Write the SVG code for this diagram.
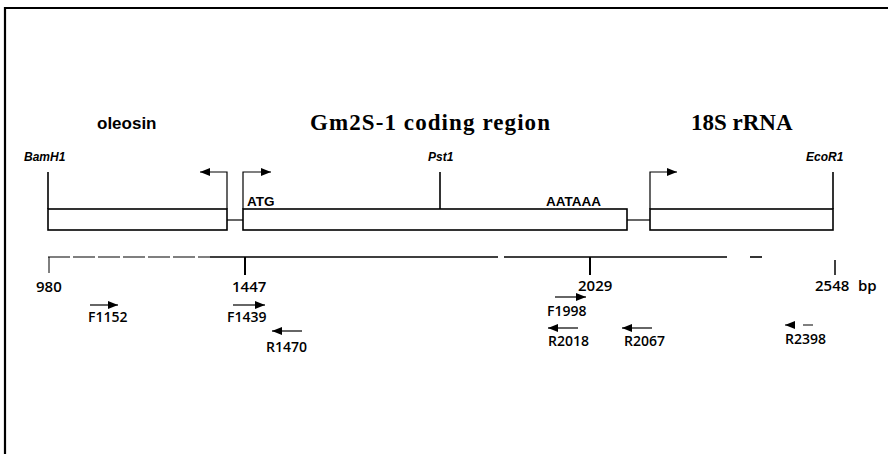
<svg xmlns="http://www.w3.org/2000/svg" width="888" height="454" viewBox="0 0 888 454">
<style>
.ln{fill:none;stroke:#000;stroke-width:1.6}
.thin{fill:none;stroke:#000;stroke-width:1.2}
.box{fill:#fff;stroke:#000;stroke-width:1.6}
.title{font-family:"Liberation Serif",serif;font-weight:bold;font-size:23px;fill:#000}
.sans{font-family:"Liberation Sans",sans-serif;font-weight:bold;fill:#000}
.site{font-family:"Liberation Sans",sans-serif;font-weight:bold;font-style:italic;font-size:12px;fill:#000}
.num{font-family:"Open Sans","Liberation Sans",sans-serif;font-weight:600;font-size:15px;fill:#000}
.pr{font-family:"Open Sans","Liberation Sans",sans-serif;font-weight:600;font-size:14px;fill:#000}
</style>
<defs>
<marker id="ah" markerUnits="userSpaceOnUse" markerWidth="11" markerHeight="9" refX="10" refY="4" orient="auto">
<path d="M0,0 L10,4 L0,8 z" fill="#000"/>
</marker>
</defs>
<rect width="888" height="454" fill="#fff"/>
<path d="M5,454 V8 H888" fill="none" stroke="#000" stroke-width="2.2"/>

<g id="titles">
<text x="97" y="129" class="sans" font-size="17">oleosin</text>
<text x="310" y="130" class="title" textLength="240" lengthAdjust="spacing">Gm2S-1 coding region</text>
<text x="691" y="130" class="title">18S rRNA</text>
</g>

<g id="oleosin">
<rect x="48" y="209" width="179" height="21" class="box"/>
<line x1="48" y1="172" x2="48" y2="209" class="ln"/>
<text x="24" y="161" class="site">BamH1</text>
</g>

<g id="gm2s1">
<rect x="243" y="209" width="384" height="21" class="box"/>
<line x1="440" y1="172" x2="440" y2="209" class="ln"/>
<text x="428" y="161" class="site">Pst1</text>
<text x="247" y="206" class="sans" font-size="13.5">ATG</text>
<text x="546" y="206" class="sans" font-size="13.5">AATAAA</text>
</g>

<g id="rrna18s">
<rect x="650" y="209" width="183" height="21" class="box"/>
<line x1="833" y1="172" x2="833" y2="209" class="ln"/>
<text x="806" y="161" class="site">EcoR1</text>
</g>

<g id="connectors">
<line x1="227" y1="220" x2="243" y2="220" class="thin"/>
<line x1="627" y1="220" x2="650" y2="220" class="thin"/>
<path d="M227,209 V172 H200" class="thin" marker-end="url(#ah)"/>
<path d="M243,209 V172 H271" class="thin" marker-end="url(#ah)"/>
<path d="M650,209 V172 H677" class="thin" marker-end="url(#ah)"/>
</g>

<g id="scale">
<path d="M48,257 H210" fill="none" stroke="#000" stroke-width="1.2" stroke-dasharray="22 3"/>
<path d="M210,257 H498 M504,257 H727" fill="none" stroke="#000" stroke-width="1.6"/>
<path d="M750,257 H762" fill="none" stroke="#000" stroke-width="1.6"/>
<line x1="49" y1="257" x2="49" y2="273" stroke="#000" stroke-width="1"/>
<line x1="245" y1="257" x2="245" y2="275" stroke="#000" stroke-width="2"/>
<line x1="590" y1="257" x2="590" y2="275" stroke="#000" stroke-width="2"/>
<line x1="835" y1="260" x2="835" y2="275" stroke="#000" stroke-width="1.5"/>
<text x="36" y="292" class="num">980</text>
<text x="232" y="292" class="num">1447</text>
<text x="578" y="291" class="num">2029</text>
<text x="815" y="291" class="num">2548</text>
<text x="858" y="291" class="num">bp</text>
</g>

<g id="primers">
<g id="F1152"><line x1="90" y1="305" x2="118" y2="305" class="thin" marker-end="url(#ah)"/><text x="88" y="322" class="pr">F1152</text></g>
<g id="F1439"><line x1="233" y1="305" x2="265" y2="305" class="thin" marker-end="url(#ah)"/><text x="227" y="322" class="pr">F1439</text></g>
<g id="R1470"><line x1="302" y1="331" x2="272" y2="331" class="thin" marker-end="url(#ah)"/><text x="266" y="352" class="pr">R1470</text></g>
<g id="F1998"><line x1="555" y1="297" x2="586" y2="297" class="thin" marker-end="url(#ah)"/><text x="547" y="316" class="pr">F1998</text></g>
<g id="R2018"><line x1="578" y1="328" x2="548" y2="328" class="thin" marker-end="url(#ah)"/><text x="548" y="346" class="pr">R2018</text></g>
<g id="R2067"><line x1="652" y1="328" x2="622" y2="328" class="thin" marker-end="url(#ah)"/><text x="624" y="346" class="pr">R2067</text></g>
<g id="R2398"><path d="M813,325 H803 M795,325 H785" class="thin" marker-end="url(#ah)"/><text x="785" y="344" class="pr">R2398</text></g>
</g>
</svg>
